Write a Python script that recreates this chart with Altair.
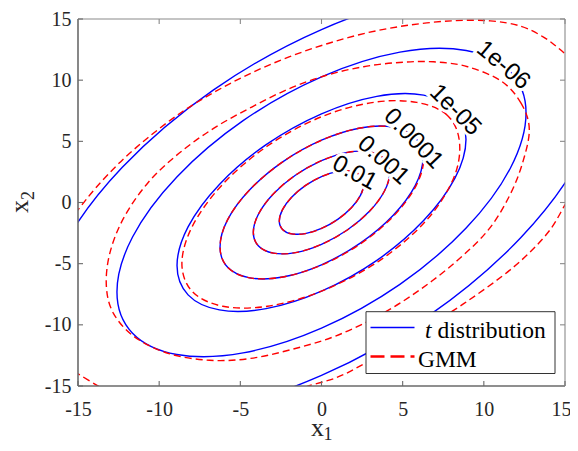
import altair as alt
import pandas as pd

# ---------------- data ----------------
TICKS = [-15, -10, -5, 0, 5, 10, 15]
LEVEL_TEXT = ["0.01", "0.001", "0.0001", "1e-05", "1e-06"]
LABEL_X = [2.04, 3.81, 5.66, 8.24, 11.2]
LABEL_Y = [2.4, 3.45, 5.2, 7.55, 11.2]
LABEL_ANGLE = [29, 42, 46, 45, 40]

# t distribution contours (closed curves)
t1_x = [2.6, 2.40, 1.84, 1.0, 0, -1.0, -1.84, -2.40, -2.6, -2.40, -1.84, -1.0, 0, 1.0, 1.84, 2.40]
t1_y = [1.51, 2.20, 2.56, 2.54, 2.12, 1.38, 0.43, -0.58, -1.51, -2.20, -2.56, -2.54, -2.12, -1.38, -0.43, 0.58]
t2_x = [4.2, 3.88, 2.97, 1.61, 0, -1.61, -2.97, -3.88, -4.2, -3.88, -2.97, -1.61, 0, 1.61, 2.97, 3.88]
t2_y = [2.44, 3.56, 4.14, 4.10, 3.42, 2.23, 0.70, -0.94, -2.44, -3.56, -4.14, -4.10, -3.42, -2.23, -0.70, 0.94]
t3_x = [6.25, 5.78, 4.42, 2.39, 0, -2.39, -4.42, -5.78, -6.25, -5.78, -4.42, -2.39, 0, 2.39, 4.42, 5.78]
t3_y = [3.63, 5.30, 6.16, 6.09, 5.09, 3.32, 1.04, -1.40, -3.63, -5.30, -6.16, -6.09, -5.09, -3.32, -1.04, 1.40]
t4_x = [8.9, 8.22, 6.29, 3.41, 0, -3.41, -6.29, -8.22, -8.9, -8.22, -6.29, -3.41, 0, 3.41, 6.29, 8.22]
t4_y = [5.16, 7.55, 8.78, 8.68, 7.25, 4.73, 1.48, -1.99, -5.16, -7.55, -8.78, -8.68, -7.25, -4.73, -1.48, 1.99]
t5_x = [12.6, 11.64, 8.91, 4.83, 0, -4.83, -8.91, -11.64, -12.6, -11.64, -8.91, -4.83, 0, 4.83, 8.91, 11.64]
t5_y = [7.31, 10.68, 12.42, 12.29, 10.27, 6.69, 2.09, -2.82, -7.31, -10.68, -12.42, -12.29, -10.27, -6.69, -2.09, 2.82]
t6_x = [17.35, 16.03, 12.27, 6.65, 0, -6.65, -12.27, -16.03, -17.35, -16.03, -12.27, -6.65, 0, 6.65, 12.27, 16.03]
t6_y = [10.06, 14.71, 17.11, 16.92, 14.14, 9.21, 2.88, -3.89, -10.06, -14.71, -17.11, -16.92, -14.14, -9.21, -2.88, 3.89]

# GMM contours (closed curves)
g1_x = [2.6, 2.40, 1.84, 1.0, 0, -1.0, -1.84, -2.40, -2.6, -2.40, -1.84, -1.0, 0, 1.0, 1.84, 2.40]
g1_y = [1.51, 2.20, 2.56, 2.54, 2.12, 1.38, 0.43, -0.58, -1.51, -2.20, -2.56, -2.54, -2.12, -1.38, -0.43, 0.58]
g2_x = [4.2, 3.88, 2.97, 1.61, 0, -1.61, -2.97, -3.88, -4.2, -3.88, -2.97, -1.61, 0, 1.61, 2.97, 3.88]
g2_y = [2.44, 3.56, 4.14, 4.10, 3.42, 2.23, 0.70, -0.94, -2.44, -3.56, -4.14, -4.10, -3.42, -2.23, -0.70, 0.94]
g3_x = [6.3, 5.8, 4.42, 2.39, 0, -2.39, -4.42, -5.78, -6.25, -5.78, -4.42, -2.39, 0, 2.42, 4.46, 5.83]
g3_y = [3.63, 5.30, 6.16, 6.09, 5.09, 3.32, 1.04, -1.40, -3.63, -5.30, -6.16, -6.09, -5.12, -3.36, -1.08, 1.38]
g4_x = [8.5, 7.76, 5.87, 3.22, 0, -3.33, -6.12, -7.95, -8.6, -7.95, -6.08, -3.33, 0, 3.49, 6.43, 8.13]
g4_y = [4.93, 7.12, 8.18, 8.19, 7.01, 4.62, 1.44, -1.93, -4.99, -7.29, -8.48, -8.48, -7.25, -4.83, -1.51, 1.97]
g5_x = [12.8, 12.3, 11.1, 9.0, 6.9, 4.8, 2.6, 0.3, -2.0, -4.3, -6.6, -8.8, -10.7, -12.2,
        -13.05, -13.25, -12.8, -11.5, -9.4, -6.9, -4.4, -1.8, 0.9, 3.6, 6.1, 8.4, 10.3, 11.6, 12.4]
g5_y = [6.0, 8.1, 9.9, 11.1, 11.5, 11.45, 11.1, 10.4, 9.3, 7.8, 6.1, 4.0, 1.6, -1.3,
        -4.2, -6.9, -9.1, -11.0, -12.35, -12.9, -12.75, -12.0, -10.9, -9.2, -7.1, -4.7, -2.2, 0.6, 3.3]

# GMM outer contour, visible pieces only (open curves)
g6a_x = [-15.6, -15.0, -13.9, -12.4, -10.6, -8.6, -6.5, -4.3, -2.0, 0.4, 2.9, 5.4, 8.0, 10.4, 12.3, 13.7, 14.7, 15.6]
g6a_y = [-1.6, -0.6, 1.2, 3.3, 5.4, 7.4, 9.1, 10.6, 11.9, 13.0, 13.9, 14.5, 14.85, 14.85, 14.4, 13.5, 12.5, 11.4]
g6b_x = [-1.6, -0.8, 0.95, 2.6, 5.7, 8.76, 11.84, 13.9, 15.0, 15.6]
g6b_y = [-15.5, -15.0, -14.3, -13.2, -10.8, -8.27, -5.27, -2.54, -0.2, 1.1]
g6c_x = [-15.8, -15.0, -13.83, -13.0]
g6c_y = [-13.3, -14.0, -14.95, -15.6]

SERIES = ["t distribution", "GMM"]

# ---------------- tables ----------------
def table(curves):
    rows = []
    for k, (xs, ys) in enumerate(curves):
        for i, (a, b) in enumerate(zip(xs, ys)):
            rows.append({"x": a, "y": b, "piece": k, "i": i})
    return pd.DataFrame(rows)

t_df = table([(t1_x, t1_y), (t2_x, t2_y), (t3_x, t3_y), (t4_x, t4_y), (t5_x, t5_y), (t6_x, t6_y)])
g_df = table([(g1_x, g1_y), (g2_x, g2_y), (g3_x, g3_y), (g4_x, g4_y), (g5_x, g5_y)])
g_open_df = table([(g6a_x, g6a_y), (g6b_x, g6b_y), (g6c_x, g6c_y)])
tick_df = pd.DataFrame({"v": TICKS})
lab_df = pd.DataFrame({"x": LABEL_X, "y": LABEL_Y, "text": LEVEL_TEXT, "angle": LABEL_ANGLE})

W, H = 487, 367
BLUE, RED = "#0000ff", "#ff0000"
AX = "#6a6a6a"
SERIF = "Times New Roman, Liberation Serif, DejaVu Serif, serif"
SANS = "Liberation Sans, Arial, Helvetica, sans-serif"

xscale = alt.Scale(domain=[-15, 15], nice=False, zero=False)
yscale = alt.Scale(domain=[-15, 15], nice=False, zero=False)
xaxis = alt.Axis(values=TICKS, ticks=False, tickSize=0, domain=False, grid=False, title=None,
                 labelFont=SERIF, labelFontSize=20, labelColor="#262626",
                 labelPadding=13, labelFlush=False, labelExpr="'' + datum.value",
                 labelOffset={"condition": {"test": "datum.value == 15", "value": -4}, "value": 0})
yaxis = alt.Axis(values=TICKS, ticks=False, tickSize=0, domain=False, grid=False, title=None,
                 labelFont=SERIF, labelFontSize=20, labelColor="#262626",
                 labelPadding=7, labelFlush=False, labelExpr="'' + datum.value")


def X(f):
    return alt.X(f, type="quantitative", scale=xscale, axis=xaxis)


def Y(f):
    return alt.Y(f, type="quantitative", scale=yscale, axis=yaxis)


blue = alt.Chart(t_df).mark_line(interpolate="cardinal-closed", color=BLUE, strokeWidth=1.4, clip=True).encode(
    x=X("x"), y=Y("y"), detail="piece:N", order="i:Q")
red = alt.Chart(g_df).mark_line(interpolate="cardinal-closed", color=RED, strokeWidth=1.4,
                                strokeDash=[7, 4], clip=True).encode(
    x=X("x"), y=Y("y"), detail="piece:N", order="i:Q")
red_open = alt.Chart(g_open_df).mark_line(interpolate="cardinal", color=RED, strokeWidth=1.4,
                                          strokeDash=[7, 4], clip=True).encode(
    x=X("x"), y=Y("y"), detail="piece:N", order="i:Q")

halo = alt.Chart(lab_df).mark_text(font=SANS, fontSize=24, fill="white", stroke="white",
                                   strokeWidth=6, align="center", baseline="middle").encode(
    x=X("x"), y=Y("y"), text="text:N", angle=alt.Angle("angle:Q", scale=None))
labels = alt.Chart(lab_df).mark_text(font=SANS, fontSize=24, color="black",
                                     align="center", baseline="middle").encode(
    x=X("x"), y=Y("y"), text="text:N", angle=alt.Angle("angle:Q", scale=None))

one = pd.DataFrame({"k": [0]})
frame_lb = alt.Chart(one).mark_rule(color=AX, strokeWidth=1.6).encode(
    x=alt.value(0), x2=alt.value(W), y=alt.value(H))
frame_l = alt.Chart(one).mark_rule(color=AX, strokeWidth=1.6).encode(
    x=alt.value(0), y=alt.value(0), y2=alt.value(H))
frame_t = alt.Chart(one).mark_rule(color="#8a8a8a", strokeWidth=1.1).encode(
    x=alt.value(0), x2=alt.value(W), y=alt.value(0))
frame_r = alt.Chart(one).mark_rule(color="#8a8a8a", strokeWidth=1.1).encode(
    x=alt.value(W), y=alt.value(0), y2=alt.value(H))

tk_b = alt.Chart(tick_df).mark_rule(color=AX, strokeWidth=1.1).encode(x=X("v"), y=alt.value(H), y2=alt.value(H - 5))
tk_t = alt.Chart(tick_df).mark_rule(color="#8a8a8a", strokeWidth=1.1).encode(x=X("v"), y=alt.value(0), y2=alt.value(5))
tk_l = alt.Chart(tick_df).mark_rule(color=AX, strokeWidth=1.1).encode(y=Y("v"), x=alt.value(0), x2=alt.value(5))
tk_r = alt.Chart(tick_df).mark_rule(color="#8a8a8a", strokeWidth=1.1).encode(y=Y("v"), x=alt.value(W), x2=alt.value(W - 5))

# legend (drawn by hand, as in the figure)
leg_box = alt.Chart(one).mark_rect(fill="white", stroke="#333333", strokeWidth=1).encode(
    x=alt.value(288), x2=alt.value(477), y=alt.value(292.7), y2=alt.value(354.5))
leg_blue = alt.Chart(one).mark_rule(color=BLUE, strokeWidth=1.5).encode(
    x=alt.value(292.5), x2=alt.value(336.5), y=alt.value(308.5))
leg_red = alt.Chart(one).mark_rule(color=RED, strokeWidth=2.4, strokeDash=[14, 6]).encode(
    x=alt.value(292.5), x2=alt.value(336.5), y=alt.value(337.5))
t_parts = SERIES[0].split(" ", 1)
leg_t = alt.Chart(pd.DataFrame({"s": [t_parts[0]]})).mark_text(
    font=SERIF, fontSize=23.5, fontStyle="italic", color="black", align="left", baseline="alphabetic").encode(
    x=alt.value(347), y=alt.value(318.5), text="s:N")
leg_t2 = alt.Chart(pd.DataFrame({"s": [t_parts[1]]})).mark_text(
    font=SERIF, fontSize=23.5, color="black", align="left", baseline="alphabetic").encode(
    x=alt.value(359.5), y=alt.value(318.5), text="s:N")
leg_g = alt.Chart(pd.DataFrame({"s": [SERIES[1]]})).mark_text(
    font=SERIF, fontSize=23.5, color="black", align="left", baseline="alphabetic").encode(
    x=alt.value(340), y=alt.value(348), text="s:N")

# axis titles x_1, x_2
xt = alt.Chart(pd.DataFrame({"s": ["x"]})).mark_text(
    font=SERIF, fontSize=26, color="#262626", align="left", baseline="alphabetic").encode(
    x=alt.value(233), y=alt.value(417), text="s:N")
xt_sub = alt.Chart(pd.DataFrame({"s": ["1"]})).mark_text(
    font=SERIF, fontSize=18, color="#262626", align="left", baseline="alphabetic").encode(
    x=alt.value(245.5), y=alt.value(421), text="s:N")
yt = alt.Chart(pd.DataFrame({"s": ["x"]})).mark_text(
    font=SERIF, fontSize=26, color="#262626", align="left", baseline="alphabetic", angle=270).encode(
    x=alt.value(-50.5), y=alt.value(194), text="s:N")
yt_sub = alt.Chart(pd.DataFrame({"s": ["2"]})).mark_text(
    font=SERIF, fontSize=18, color="#262626", align="left", baseline="alphabetic", angle=270).encode(
    x=alt.value(-44.5), y=alt.value(181), text="s:N")

chart = alt.layer(
    blue, red, red_open, halo, labels,
    frame_lb, frame_l, frame_t, frame_r, tk_b, tk_t, tk_l, tk_r,
    leg_box, leg_blue, leg_red, leg_t, leg_t2, leg_g,
    xt, xt_sub, yt, yt_sub,
).properties(
    width=W, height=H,
    padding={"left": 70, "top": 11, "right": 5, "bottom": 57},
    autosize=alt.AutoSizeParams(type="none"),
    background="white",
).configure_view(stroke=None)

chart.save("out.html", embed_options={"renderer": "svg", "actions": False})
